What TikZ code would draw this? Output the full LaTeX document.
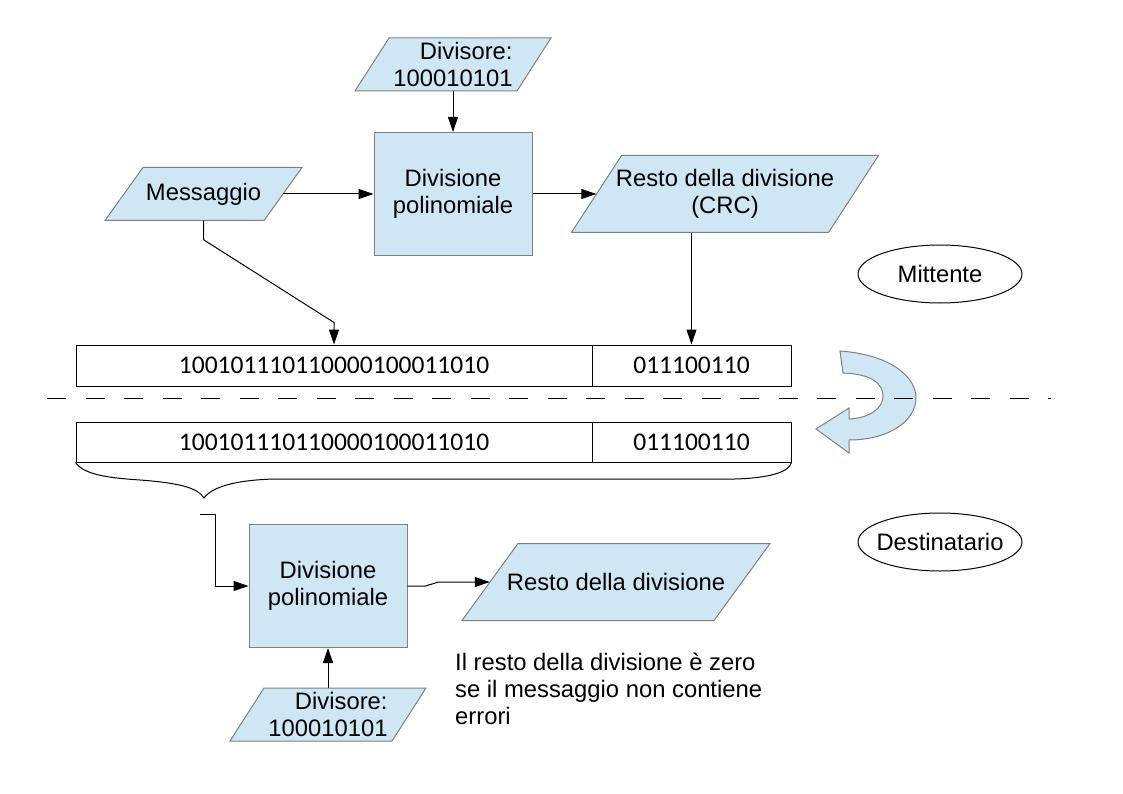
\documentclass[tikz,border=0pt]{standalone}
\usepackage{fontspec}
\setmainfont{Liberation Sans}
\newfontfamily\bitfont{Carlito}
\usetikzlibrary{arrows.meta,calc,shapes.geometric}
\definecolor{boxblue}{RGB}{207,231,245}
\definecolor{edgegrey}{RGB}{128,128,128}
% #1 name, #2 cx, #3 cy, #4 overall width, #5 height, #6 slant, #7 align, #8 text
\newcommand{\ioshape}[8]{%
  \filldraw[iofill] (#2-#4/2+#6,#3-#5/2) -- (#2+#4/2,#3-#5/2) -- (#2+#4/2-#6,#3+#5/2) -- (#2-#4/2,#3+#5/2) -- cycle;
  \node[iotext, minimum width=#4 pt, minimum height=#5 pt, align=#7] (#1) at (#2,#3) {#8};
}
\begin{document}
\begin{tikzpicture}[x=1pt,y=-1pt,
  every node/.style={font=\fontsize{23.8}{27}\selectfont},
  arr/.style={-{Triangle[length=15pt,width=10pt]}, line width=1pt},
  ln/.style={line width=1pt},
  iofill/.style={fill=boxblue, draw=edgegrey, line width=1pt},
  iotext/.style={inner sep=0pt},
  proc/.style={draw=edgegrey, fill=boxblue, line width=1pt, minimum width=158pt, minimum height=123pt, inner sep=0pt, align=center},
  bits/.style={draw, line width=1pt, inner sep=0pt, font=\bitfont\fontsize{25.5}{28}\selectfont},
  role/.style={draw, ellipse, line width=1pt, minimum width=164pt, minimum height=58pt, inner ysep=0pt, inner xsep=-6pt}
]
\fill[white] (0,0) rectangle (1123,794);
\useasboundingbox (0,0) rectangle (1123,794);

% sender side
\ioshape{divtop}{453}{64.5}{196}{53}{34}{right}{Divisore:\\100010101}
\ioshape{mess}{203.5}{194}{197}{53}{38}{center}{Messaggio}
\ioshape{resto}{725}{194}{307}{77}{50}{center}{Resto della divisione\\(CRC)}
\node[proc] (div1) at (453,194) {Divisione\\polinomiale};

\node[role] (mitt) at (940,274) {Mittente};
\node[role] (dest) at (940,542) {Destinatario};

\node[bits, minimum width=516pt, minimum height=41pt] (bits1) at (334,365.5) {100101110110000100011010};
\node[bits, minimum width=199pt, minimum height=41pt] (crc1) at (691.5,365.5) {011100110};
\node[bits, minimum width=516pt, minimum height=40pt] (bits2) at (334,442) {100101110110000100011010};
\node[bits, minimum width=199pt, minimum height=40pt] (crc2) at (691.5,442) {011100110};

\draw[arr] (divtop.south) -- (div1.north);
\draw[arr] ([xshift=-19pt]mess.east) -- (div1.west);
\draw[arr] (div1.east) -- ([xshift=25pt]resto.west);
\draw[arr] (mess.south) -- ++(0,19) -- ($(bits1.north)+(0,-22)$) -- (bits1.north);
\draw[arr] (crc1.north |- resto.south) -- (crc1.north);

% transfer arrow
\draw[edgegrey, fill=boxblue, line width=1pt]
  (840,351) .. controls (893,355) and (916,378) .. (916,398)
  .. controls (916,420) and (890,440) .. (849,440)
  -- (849,453) -- (816,429) -- (849,408) -- (849,419)
  .. controls (870,418) and (883,408) .. (883,396)
  .. controls (883,384) and (872,374) .. (843,373) -- cycle;

\draw[ln, dash pattern=on 19pt off 19.5pt] (47,398) -- (1051,398);

% receiver side
\coordinate (bracetip) at (204,498);
\draw[ln] (bits2.south west) .. controls (84,475) and (110,478) .. (140,480)
  .. controls (180,483) and (198,488) .. (bracetip)
  .. controls (212,487) and (235,480) .. (275,479) -- (735,479)
  .. controls (770,478) and (789,472) .. (crc2.south east);

\node[proc] (div2) at (328,586) {Divisione\\polinomiale};
\ioshape{resto2}{616}{582}{308}{77}{56}{center}{Resto della divisione}
\ioshape{divbot}{328}{714.5}{196}{53}{34}{right}{Divisore:\\100010101}

\coordinate (feed) at (200,514);
\draw[arr] (feed) -- ++(15,0) |- (div2.west);
\draw[arr] (div2.east) -- ++(18,0) -- ++(13,-4) -- ([xshift=28pt]resto2.west);
\draw[arr] (divbot.north) -- (div2.south);

\node[anchor=west, align=left, inner sep=0pt] (note) at (455,689) {Il resto della divisione è zero\\se il messaggio non contiene\\errori};
\end{tikzpicture}
\end{document}
